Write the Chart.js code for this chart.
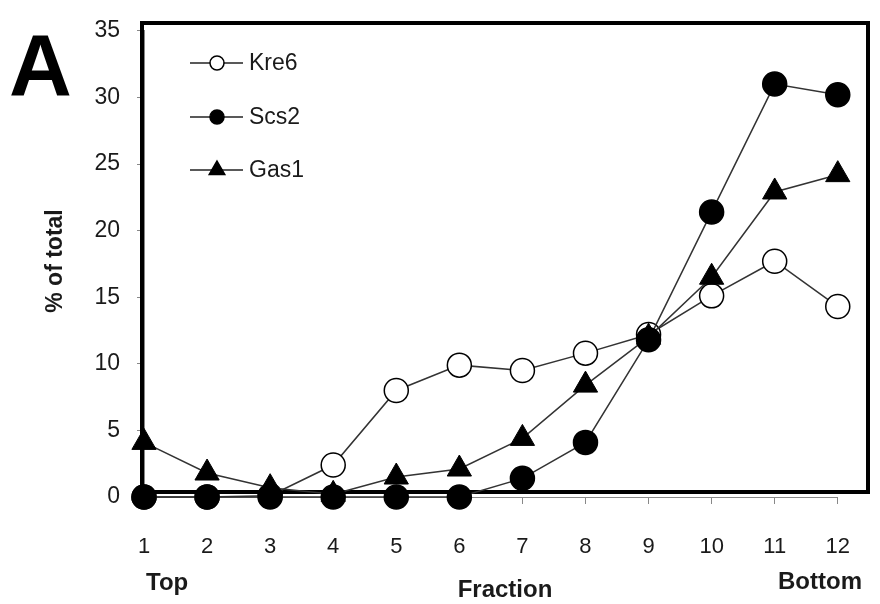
<!DOCTYPE html>
<html>
<head>
<meta charset="utf-8">
<script src="https://cdn.jsdelivr.net/npm/chart.js@4.4.1/dist/chart.umd.min.js"></script>
<style>
  body { margin: 0; background: #fff; }
  #wrap { width: 880px; height: 604px; }
</style>
</head>
<body>
<div id="wrap"><canvas id="fracChart" width="880" height="604"></canvas></div>
<script>
// fractions from top to bottom of the gradient
const fractions = ['1', '2', '3', '4', '5', '6', '7', '8', '9', '10', '11', '12'];
const kre6 = [0, 0, 0.1, 2.4, 8.0, 9.9, 9.5, 10.8, 12.2, 15.1, 17.7, 14.3];
const scs2 = [0, 0, 0, 0, 0, 0, 1.4, 4.1, 11.8, 21.4, 31.0, 30.2];
const gas1 = [4.1, 1.8, 0.7, 0.2, 1.5, 2.1, 4.4, 8.4, 12.0, 16.5, 22.9, 24.2];
const yTicks = [0, 5, 10, 15, 20, 25, 30, 35];

const FONT = "'Liberation Sans', Arial, sans-serif";
const INK = '#1a1a1a';

// thick plot frame, drawn under the markers
const framePlugin = {
    id: 'frame',
    beforeDatasetsDraw(chart) {
        const ctx = chart.ctx;
        ctx.save();
        ctx.strokeStyle = '#000';
        ctx.lineWidth = 4;
        ctx.strokeRect(142, 23, 726, 469);
        ctx.restore();
    }
};

// legend with line + marker, plus the extra labels
const extrasPlugin = {
    id: 'extras',
    afterDraw(chart) {
        const ctx = chart.ctx;
        ctx.save();
        const rows = [63, 117, 170];
        chart.data.datasets.forEach((ds, i) => {
            const y = rows[i];
            ctx.strokeStyle = '#222';
            ctx.lineWidth = 1.5;
            ctx.beginPath();
            ctx.moveTo(190, y);
            ctx.lineTo(243, y);
            ctx.stroke();
            ctx.fillStyle = ds.pointBackgroundColor;
            ctx.strokeStyle = '#000';
            Chart.helpers.drawPoint(ctx, {
                pointStyle: ds.pointStyle,
                radius: ds.pointStyle === 'triangle' ? 9 : 7,
                rotation: 0,
                borderWidth: 1.5
            }, 217, y);
            ctx.fillStyle = INK;
            ctx.font = '23px ' + FONT;
            ctx.textAlign = 'left';
            ctx.textBaseline = 'middle';
            ctx.fillText(ds.label, 249, y + 1);
        });

        ctx.fillStyle = INK;
        ctx.textBaseline = 'middle';
        ctx.font = 'bold 24px ' + FONT;
        ctx.textAlign = 'left';
        ctx.fillText('Top', 146, 583);
        ctx.textAlign = 'center';
        ctx.fillText('Fraction', 505, 590);
        ctx.fillText('Bottom', 820, 582);

        ctx.font = 'bold 87px ' + FONT;
        ctx.textAlign = 'left';
        ctx.textBaseline = 'alphabetic';
        ctx.fillStyle = '#000';
        ctx.fillText('A', 9, 95);

        ctx.translate(56, 261);
        ctx.rotate(-Math.PI / 2);
        ctx.font = 'bold 23px ' + FONT;
        ctx.textAlign = 'center';
        ctx.textBaseline = 'middle';
        ctx.fillStyle = INK;
        ctx.fillText('% of total', 0, 0);
        ctx.restore();
    }
};

const ctx = document.getElementById('fracChart').getContext('2d');

new Chart(ctx, {
    type: 'line',
    data: {
        labels: fractions,
        datasets: [
            {
                label: 'Kre6',
                data: kre6,
                order: 2,
                borderColor: '#333',
                borderWidth: 1.5,
                pointStyle: 'circle',
                pointRadius: 12,
                pointBackgroundColor: '#fff',
                pointBorderColor: '#000',
                pointBorderWidth: 1.5,
                clip: false
            },
            {
                label: 'Scs2',
                data: scs2,
                order: 0,
                borderColor: '#333',
                borderWidth: 1.5,
                pointStyle: 'circle',
                pointRadius: 12,
                pointBackgroundColor: '#000',
                pointBorderColor: '#000',
                pointBorderWidth: 1.5,
                clip: false
            },
            {
                label: 'Gas1',
                data: gas1,
                order: 1,
                borderColor: '#333',
                borderWidth: 1.5,
                pointStyle: 'triangle',
                pointRadius: 14,
                pointBackgroundColor: '#000',
                pointBorderColor: '#000',
                pointBorderWidth: 1,
                clip: false
            }
        ]
    },
    options: {
        responsive: false,
        animation: false,
        layout: { padding: { top: 23, right: 14, left: 0, bottom: 0 } },
        plugins: {
            legend: { display: false },
            tooltip: { enabled: false }
        },
        scales: {
            x: {
                offset: false,
                grid: {
                    drawOnChartArea: false,
                    tickLength: 7,
                    color: '#888'
                },
                border: { color: '#888', width: 1 },
                ticks: {
                    autoSkip: false,
                    maxRotation: 0,
                    padding: 30,
                    color: INK,
                    font: { family: FONT, size: 22 }
                },
                afterFit(scale) { scale.height = 107; }
            },
            y: {
                min: 0,
                max: 35,
                afterBuildTicks(scale) {
                    scale.ticks = yTicks.map(v => ({ value: v }));
                },
                grid: {
                    drawOnChartArea: false,
                    tickLength: 7,
                    color: '#888'
                },
                border: { color: '#888', width: 1 },
                ticks: {
                    padding: 17,
                    color: INK,
                    font: { family: FONT, size: 23 }
                },
                afterFit(scale) { scale.width = 144; }
            }
        }
    },
    plugins: [framePlugin, extrasPlugin]
});
</script>
</body>
</html>
